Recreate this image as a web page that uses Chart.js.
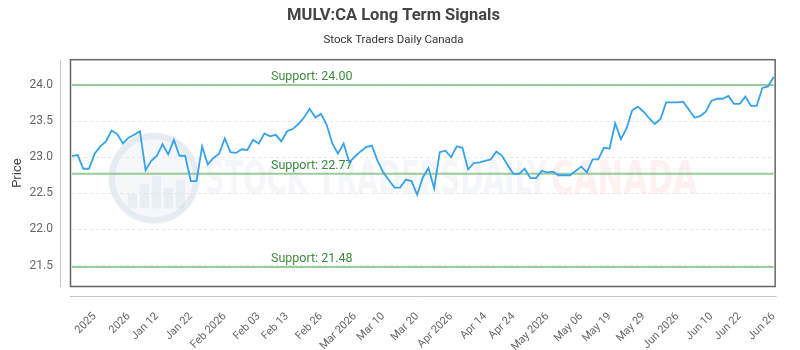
<!DOCTYPE html>
<html>
<head>
<meta charset="utf-8">
<title>MULV:CA Long Term Signals</title>
<script src="https://cdn.jsdelivr.net/npm/chart.js@4.4.1/dist/chart.umd.min.js"></script>
<style>
  html, body { margin: 0; padding: 0; background: #fff; }
</style>
</head>
<body>
<canvas id="signalsChart" width="800" height="350"></canvas>
<script>
// Precios (leídos a ojo del gráfico original)
const prices = [
  23.02, 23.03, 22.84, 22.84, 23.05, 23.15, 23.22, 23.37, 23.32, 23.19,
  23.27, 23.31, 23.36, 22.82, 22.95, 23.02, 23.18, 23.04, 23.24, 23.02,
  23.02, 22.67, 22.67, 23.15, 22.90, 22.99, 23.05, 23.26, 23.07, 23.06,
  23.11, 23.10, 23.24, 23.19, 23.33, 23.29, 23.31, 23.22, 23.36, 23.39,
  23.46, 23.55, 23.67, 23.55, 23.60, 23.45, 23.19, 23.05, 23.19, 22.93,
  23.01, 23.08, 23.14, 23.16, 22.95, 22.79, 22.68, 22.58, 22.58, 22.69,
  22.67, 22.48, 22.72, 22.85, 22.57, 23.07, 23.09, 23.00, 23.15, 23.13,
  22.83, 22.92, 22.93, 22.95, 22.97, 23.08, 23.02, 22.89, 22.77, 22.77,
  22.84, 22.71, 22.71, 22.81, 22.79, 22.80, 22.75, 22.75, 22.75, 22.81,
  22.87, 22.79, 22.97, 22.97, 23.13, 23.12, 23.47, 23.25, 23.40, 23.65,
  23.70, 23.63, 23.54, 23.46, 23.53, 23.76, 23.76, 23.76, 23.77, 23.66,
  23.55, 23.57, 23.63, 23.78, 23.81, 23.81, 23.85, 23.74, 23.74, 23.84,
  23.71, 23.71, 23.96, 23.98, 24.11
];

// Etiquetas visibles del eje X
const tickLabels = [
  "2025", "2026", "Jan 12", "Jan 22", "Feb 2026", "Feb 03", "Feb 13", "Feb 26",
  "Mar 2026", "Mar 10", "Mar 20", "Apr 2026", "Apr 14", "Apr 24", "May 2026",
  "May 06", "May 19", "May 29", "Jun 2026", "Jun 10", "Jun 22", "Jun 26"
];

// Niveles de soporte
const supportLevels = [24.00, 22.77, 21.48];

// Ticks del eje Y
const yTicks = [21.5, 22.0, 22.5, 23.0, 23.5, 24.0];
const yMin = 21.23;
const yMax = 24.33;

// Una etiqueta por punto; solo algunas se muestran
const labels = prices.map(() => "");
const firstTick = 4;
const tickStep = (prices.length - 1 - firstTick) / (tickLabels.length - 1);
tickLabels.forEach((t, k) => {
  labels[Math.round(firstTick + k * tickStep)] = t;
});

// Plugin para marca de agua, soportes y marco
const decorPlugin = {
  id: "decor",
  beforeDraw(chart) {
    const { ctx, chartArea: a } = chart;
    ctx.save();
    ctx.fillStyle = "#fff";
    ctx.fillRect(0, 0, chart.width, chart.height);

    // logo de la marca de agua
    const cx = a.left + 82, cy = a.top + 117;
    ctx.fillStyle = "rgba(210,218,232,0.22)";
    ctx.beginPath();
    ctx.arc(cx, cy, 46, 0, Math.PI * 2);
    ctx.fill();
    ctx.strokeStyle = "rgba(190,202,222,0.25)";
    ctx.lineWidth = 6;
    ctx.beginPath();
    ctx.arc(cx, cy, 42, 0, Math.PI * 2);
    ctx.stroke();
    ctx.fillStyle = "rgba(185,198,220,0.2)";
    [[-26, 14], [-14, 24], [-2, 32], [10, 20], [22, 28]].forEach(([dx, h]) => {
      ctx.fillRect(cx + dx, cy + 30 - h, 9, h);
    });

    // texto de la marca de agua
    const drawFit = (txt, x, base, w, color) => {
      ctx.font = "bold 46px 'DejaVu Sans Condensed', 'DejaVu Sans', sans-serif";
      const m = ctx.measureText(txt).width;
      ctx.save();
      ctx.translate(x, base);
      ctx.scale(w / m, 1);
      ctx.fillStyle = color;
      ctx.fillText(txt, 0, 0);
      ctx.restore();
    };
    ctx.textBaseline = "alphabetic";
    drawFit("STOCK TRADERSDAILY", a.left + 133, a.top + 133, 342, "rgba(205,214,230,0.22)");
    drawFit("CANADA", a.left + 479, a.top + 133, 146, "rgba(255,180,190,0.2)");
    ctx.restore();
  },
  beforeDatasetsDraw(chart) {
    const { ctx, chartArea: a, scales: { y } } = chart;
    ctx.save();
    supportLevels.forEach((level) => {
      const py = y.getPixelForValue(level);
      ctx.strokeStyle = "rgba(110,185,110,0.7)";
      ctx.lineWidth = 2;
      ctx.beginPath();
      ctx.moveTo(a.left, py);
      ctx.lineTo(a.right, py);
      ctx.stroke();
      ctx.fillStyle = "#3e8a3e";
      ctx.font = "12.5px Roboto, 'Noto Sans', sans-serif";
      ctx.textAlign = "left";
      ctx.textBaseline = "alphabetic";
      ctx.fillText("Support: " + level.toFixed(2), a.left + 199, py - 5);
    });
    ctx.restore();
  },
  afterDraw(chart) {
    const { ctx, chartArea: a } = chart;
    ctx.save();
    // marco del área del gráfico
    ctx.strokeStyle = "#666";
    ctx.lineWidth = 1.5;
    ctx.strokeRect(a.left - 1.5, a.top - 1.5, a.right - a.left + 3, a.bottom - a.top + 3);
    // líneas de los ejes
    ctx.strokeStyle = "#c8c8c8";
    ctx.lineWidth = 1;
    ctx.beginPath();
    ctx.moveTo(a.left - 11.5, a.top - 1);
    ctx.lineTo(a.left - 11.5, a.bottom + 2);
    ctx.moveTo(a.left - 2, a.bottom + 11.5);
    ctx.lineTo(a.right + 3, a.bottom + 11.5);
    ctx.stroke();
    ctx.restore();
  }
};

Chart.defaults.font.family = "Roboto, 'Noto Sans', sans-serif";

const ctx = document.getElementById("signalsChart").getContext("2d");
const signalsChart = new Chart(ctx, {
  type: "line",
  data: {
    labels: labels,
    datasets: [
      {
        label: "Price",
        data: prices,
        borderColor: "rgb(54,162,235)",
        borderWidth: 1.8,
        pointRadius: 0,
        tension: 0,
        fill: false
      }
    ]
  },
  options: {
    responsive: false,
    animation: false,
    layout: { padding: { left: 0, right: 13, top: 0, bottom: 0 } },
    plugins: {
      legend: { display: false },
      tooltip: { enabled: false },
      title: {
        display: true,
        text: "MULV:CA Long Term Signals",
        color: "#444",
        font: { size: 16.5, weight: "bold" },
        padding: { top: 6, bottom: 4 }
      },
      subtitle: {
        display: true,
        text: "Stock Traders Daily Canada",
        color: "#333",
        font: { size: 11.5 },
        padding: { top: 3.6, bottom: 14 }
      }
    },
    scales: {
      x: {
        type: "category",
        offset: false,
        grid: { display: false },
        border: { display: false },
        ticks: {
          autoSkip: false,
          minRotation: 45,
          maxRotation: 45,
          padding: 17,
          color: "#666",
          font: { size: 11 }
        },
        afterFit: (s) => { s.height = 65; }
      },
      y: {
        min: yMin,
        max: yMax,
        grid: { color: "#e6e6e6", drawTicks: false, lineWidth: 1 },
        border: { display: false, dash: [3, 3] },
        title: {
          display: true,
          text: "Price",
          color: "#444",
          font: { size: 13 },
          padding: { top: 10, bottom: 0 }
        },
        ticks: {
          padding: 19,
          color: "#666",
          font: { size: 12 },
          callback: (v) => Number(v).toFixed(1)
        },
        afterBuildTicks: (s) => { s.ticks = yTicks.map((v) => ({ value: v })); },
        afterFit: (s) => { s.width = 72; }
      }
    }
  },
  plugins: [decorPlugin]
});
</script>
</body>
</html>
